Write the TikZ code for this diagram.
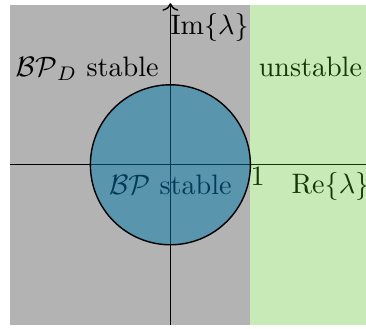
\documentclass[tikz,border=0pt]{standalone}
\usepackage{tikz}
\usepackage{xcolor}
\usetikzlibrary{arrows.meta, positioning, calc, backgrounds}
\definecolor{StableGray}{HTML}{B3B3B3}
\definecolor{UnstableGreen}{HTML}{48B912}
\definecolor{DiscBlue}{HTML}{0379AB}
\tikzset{
    % Region styles - flat fills
    stableregion/.style={
        fill=StableGray,
        draw=none
    },
    unstableregion/.style={
        fill=UnstableGreen,
        fill opacity=0.3,
        draw=none
    },
    disc/.style={
        circle,
        draw=black,
        line width=0.5pt,
        fill=DiscBlue,
        fill opacity=0.5,
        minimum size=2cm,
        inner sep=0pt
    },
    % Text style
    regiontext/.style={
        align=center,
        inner sep=0pt
    },
    % Axis styles
    axis/.style={
        line width=0.5pt,
        draw=black
    },
    axisarrow/.style={
        ->,
        >=To,
        line width=0.5pt,
        draw=black
    }
}
\begin{document}
\begin{tikzpicture}
    \useasboundingbox (-2.13,-2.05) rectangle (2.445,2.06);

    % Stable region
    \fill[stableregion] (-2,-2) rectangle (1,2);

    % Axes
    \coordinate (xmin) at (-2,0);
    \coordinate (xmax) at (2.45,0);
    \coordinate (ymin) at (0,-2);
    \coordinate (ymax) at (0,2.02);
    \draw[axis] (xmin) -- (xmax);
    \draw[axisarrow] (ymin) -- (ymax);

    % Labels
    \node[regiontext] (imlabel) at (0.49,1.72) {$\mathrm{Im}\{\lambda\}$};
    \node[regiontext] (bpdlabel) at (-1.04,1.2) {$\mathcal{BP}_D$ stable};
    \node[regiontext] (unstablelabel) at (1.75,1.22) {unstable};
    \node[regiontext] (bplabel) at (0,-0.25) {$\mathcal{BP}$ stable};
    \node[regiontext] (onelabel) at (1.09,-0.14) {$1$};
    \node[regiontext] (relabel) at (2.0,-0.27) {$\mathrm{Re}\{\lambda\}$};

    % Unstable region and unit disc on top
    \fill[unstableregion] (1,-2) rectangle (2.45,2);
    \node[disc] (unitdisc) at (0,0) {};
\end{tikzpicture}
\end{document}
